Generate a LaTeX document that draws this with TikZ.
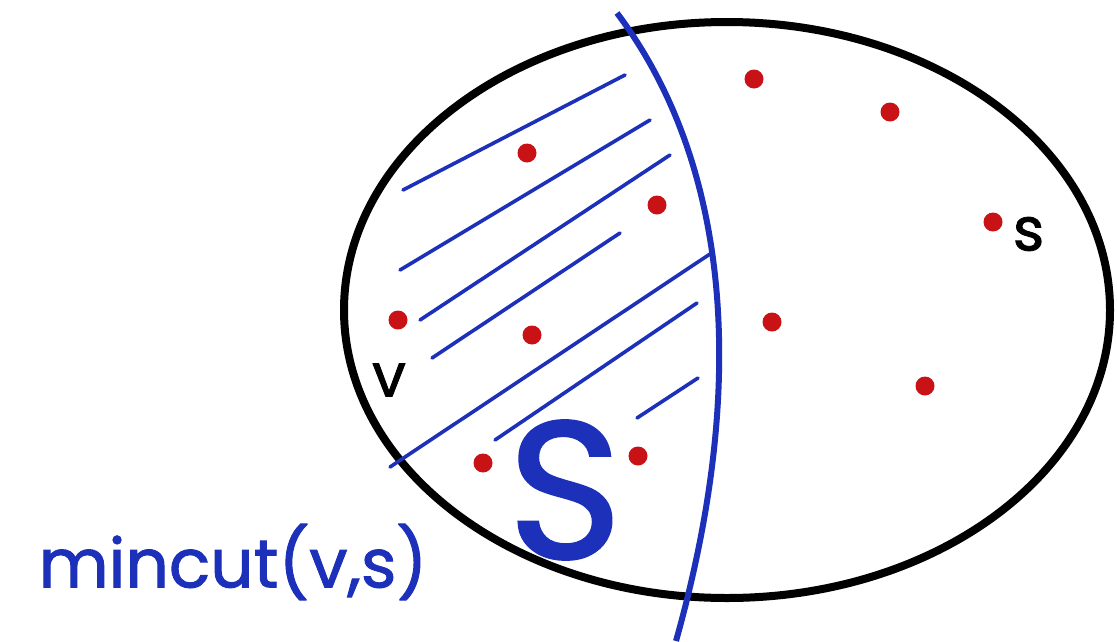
\documentclass[tikz,border=0pt]{standalone}
\usepackage{fontspec}
\setmainfont{Poppins}
\newfontfamily\penfont[FakeBold=1.4]{Poppins}
\usetikzlibrary{positioning}
\definecolor{penblue}{RGB}{28,48,185}
\definecolor{dotred}{RGB}{200,18,22}

\begin{document}
\begin{tikzpicture}[
  x=1pt, y=-1pt,
  vtx/.style={circle, fill=dotred, inner sep=0pt, minimum size=19pt},
  cutline/.style={penblue, line width=6pt},
  hatch/.style={penblue, line width=3.6pt, line cap=round},
  lab/.style={inner sep=0pt, font=\fontsize{60}{60}\penfont}
]
  \useasboundingbox (0,0) rectangle (1117,641);

  % the vertex set
  \draw[line width=8pt] (727,310) ellipse [x radius=383, y radius=288];

  % hatching of S
  \draw[hatch] (403,190) -- (625,75);
  \draw[hatch] (400,270) -- (650,120);
  \draw[hatch] (420,320) -- (670,155);
  \draw[hatch] (432,358) -- (620,233);
  \draw[hatch] (390,467) -- (713,252);
  \draw[hatch] (495,440) -- (697,303);
  \draw[hatch] (637,418) -- (698,378);

  % the cut
  \draw[cutline] (617,13) .. controls (720,150) and (755,360) .. (676,641);

  % vertices
  \node[vtx] (a1) at (527,153) {};
  \node[vtx] (a2) at (657,205) {};
  \node[vtx] (v)  at (398,320) {};
  \node[vtx] (a3) at (532,335) {};
  \node[vtx] (a4) at (483,463) {};
  \node[vtx] (a5) at (638,456) {};
  \node[vtx] (b1) at (754,79) {};
  \node[vtx] (b2) at (890,112) {};
  \node[vtx] (s)  at (993,222) {};
  \node[vtx] (b3) at (772,322) {};
  \node[vtx] (b4) at (925,386) {};

  % labels
  \node[lab, right=10pt of s, yshift=-12pt] (slab) {s};
  \node[lab] (vlab) at (389,380) {v};
  \node[inner sep=0pt, text=penblue, font=\fontsize{195}{195}\penfont] (Slab) at (565,490) {S};
  \node[lab, text=penblue, font=\fontsize{68}{68}\penfont] (cutlab) at (233,562) {mincut(v,s)};
\end{tikzpicture}
\end{document}
